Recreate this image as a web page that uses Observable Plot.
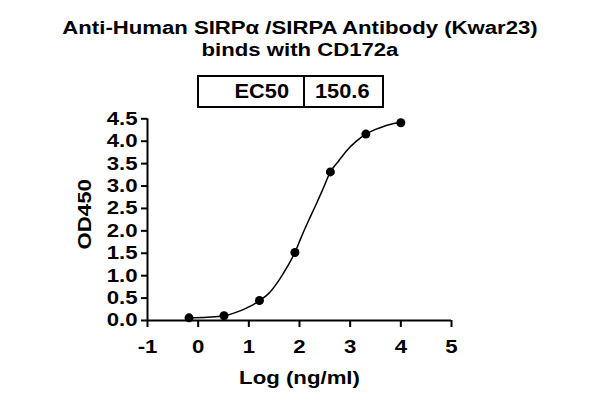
<!DOCTYPE html>
<html>
<head>
<meta charset="utf-8">
<script src="https://cdn.jsdelivr.net/npm/d3@7"></script>
<script src="https://cdn.jsdelivr.net/npm/@observablehq/plot@0.6"></script>
<style>
  html, body { margin: 0; padding: 0; background: #fff; }
  body { width: 600px; height: 403px; position: relative; overflow: hidden;
         font-family: "Liberation Sans", Arial, Helvetica, sans-serif; font-weight: bold; color: #000; }
  #title { position: absolute; left: 0; top: 16.5px; width: 600px; text-align: center;
           font-size: 18px; line-height: 22.5px; transform: scaleX(1.23); transform-origin: 300px 0; }
  #ec50 { position: absolute; left: 197px; top: 75px; width: 187px; height: 33px;
          border: 2px solid #000; box-sizing: border-box; display: flex; font-size: 20px; line-height: 29px; }
  #ec50 .k { width: 106px; text-align: right; padding-right: 14px; box-sizing: border-box; border-right: 2px solid #000; }
  #ec50 .v { padding-left: 10px; }
  #ec50 .k span { display: inline-block; transform: scaleX(1.09); transform-origin: right center; }
  #ec50 .v span { display: inline-block; transform: scaleX(1.09); transform-origin: left center; }
  #chart { position: absolute; left: 0; top: 90px; }
</style>
</head>
<body>
<div id="title">Anti-Human SIRPα /SIRPA Antibody (Kwar23)<br>binds with CD172a</div>
<div id="ec50"><div class="k"><span>EC50</span></div><div class="v"><span>150.6</span></div></div>
<div id="chart"></div>
<script>
// measured points: log concentration (ng/ml) and OD450
const logConc = [-0.18, 0.51, 1.21, 1.91, 2.61, 3.31, 4.0];
const od450   = [0.06, 0.105, 0.446, 1.518, 3.315, 4.159, 4.413];

// fitted curve
const fitLog = [-0.18, 0.18, 0.51, 0.84, 1.03, 1.21, 1.39, 1.59, 1.76, 1.91, 2.05, 2.18, 2.32, 2.45, 2.61, 2.78, 2.94, 3.1, 3.31, 3.5, 3.7, 3.86, 4.0];
const fitOD  = [0.06, 0.075, 0.105, 0.22, 0.32, 0.446, 0.6, 0.89, 1.2, 1.518, 1.9, 2.23, 2.57, 2.9, 3.315, 3.57, 3.8, 3.98, 4.159, 4.263, 4.345, 4.397, 4.413];

const xTicks = [-1, 0, 1, 2, 3, 4, 5];
const yTicks = [0, 0.5, 1, 1.5, 2, 2.5, 3, 3.5, 4, 4.5];

const points = logConc.map((x, i) => ({x, y: od450[i]}));
const fit = fitLog.map((x, i) => ({x, y: fitOD[i]}));

const chart = Plot.plot({
  width: 600,
  height: 313,
  marginLeft: 147,
  marginRight: 149,
  marginTop: 28.3,
  marginBottom: 83,
  x: {domain: [-1, 5]},
  y: {domain: [0, 4.5]},
  style: {fontFamily: "'Liberation Sans', Arial, sans-serif", fontWeight: "bold", fontSize: "18.5px", color: "#000", background: "transparent", overflow: "visible"},
  marks: [
    Plot.axisY({ticks: yTicks, tickFormat: d => d.toFixed(1), tickSize: 6, tickPadding: 4, strokeWidth: 2, label: null}),
    Plot.axisX({ticks: xTicks, tickFormat: d => (d < 0 ? "-" + Math.abs(d) : String(d)), tickSize: 7, tickPadding: 12, strokeWidth: 2, label: null}),
    Plot.ruleX([-1], {y1: 0, y2: 4.5, strokeWidth: 2, stroke: "#000"}),
    Plot.ruleY([0], {x1: -1, x2: 5, strokeWidth: 2, stroke: "#000"}),
    Plot.line(fit, {x: "x", y: "y", curve: "monotone-x", stroke: "#000", strokeWidth: 1.5}),
    Plot.dot(points, {x: "x", y: "y", r: 4.5, fill: "#000", stroke: "none"}),
    Plot.text(["OD450"], {text: d => d, frameAnchor: "left", textAnchor: "middle", y: () => 2.37, dx: -62, rotate: -90, fontSize: 18.5}),
    Plot.text(["Log (ng/ml)"], {text: d => d, frameAnchor: "bottom", dy: 50, lineAnchor: "top", fontSize: 18.5})
  ]
});
document.getElementById("chart").appendChild(chart);

// the reference's lettering is about 1.2x wider than plain Arial at the same height
chart.querySelectorAll("text").forEach(t => {
  const w = t.getComputedTextLength();
  if (w > 0) {
    t.setAttribute("textLength", (w * 1.2).toFixed(2));
    t.setAttribute("lengthAdjust", "spacingAndGlyphs");
  }
});
</script>
</body>
</html>
